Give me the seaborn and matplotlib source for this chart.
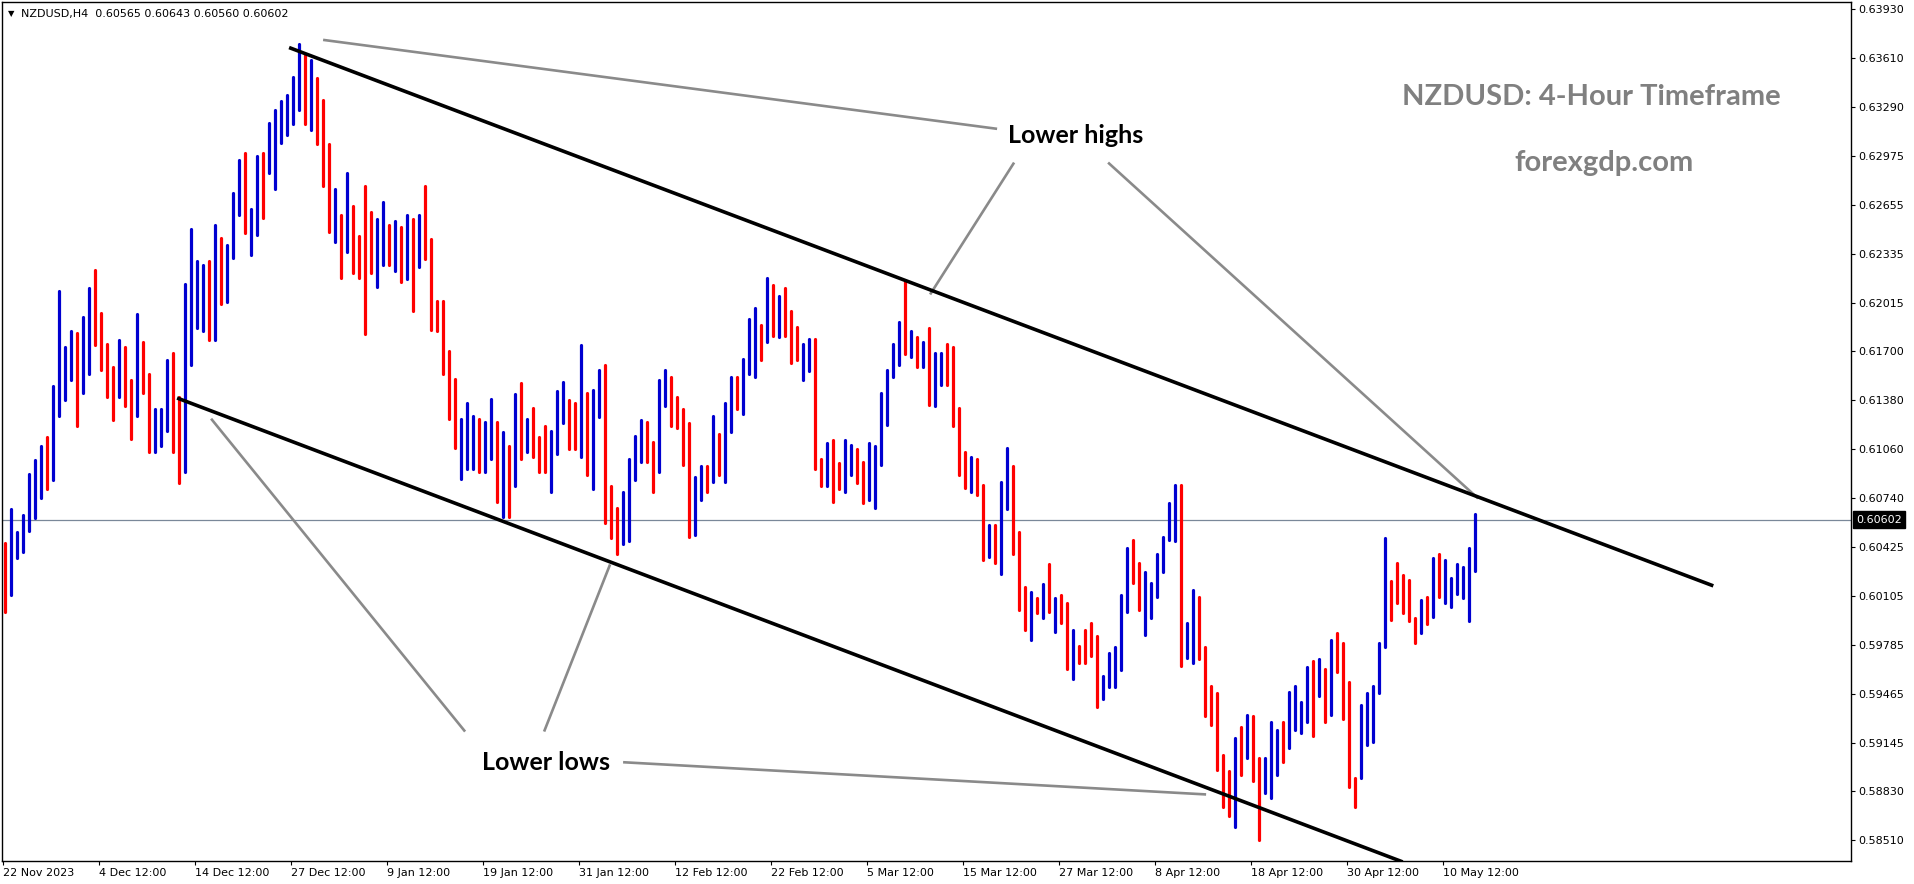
import numpy as np
import pandas as pd
import matplotlib
matplotlib.use("Agg")
import matplotlib.pyplot as plt
import matplotlib.transforms as mtransforms
import seaborn as sns

# ---------------- data (NZDUSD H4, each drawn bar = 3 consecutive H4 bars) ----------------
bar_high = [
    0.6045, 0.6067, 0.6052, 0.6063, 0.6090, 0.6099, 0.6108, 0.6114, 0.6147, 0.6209,
    0.6173, 0.6183, 0.6182, 0.6192, 0.6211, 0.6223, 0.6195, 0.6175, 0.6160, 0.6177,
    0.6173, 0.6151, 0.6194, 0.6176, 0.6155, 0.6132, 0.6132, 0.6164, 0.6169, 0.6140,
    0.6214, 0.6250, 0.6229, 0.6226, 0.6229, 0.6252, 0.6244, 0.6239, 0.6273, 0.6295,
    0.6299, 0.6263, 0.6297, 0.6299, 0.6319, 0.6327, 0.6333, 0.6337, 0.6349, 0.6370,
    0.6364, 0.6360, 0.6348, 0.6334, 0.6305, 0.6276, 0.6259, 0.6286, 0.6265, 0.6245,
    0.6278, 0.6261, 0.6256, 0.6267, 0.6252, 0.6255, 0.6251, 0.6259, 0.6256, 0.6259,
    0.6278, 0.6243, 0.6203, 0.6203, 0.6170, 0.6152, 0.6126, 0.6136, 0.6128, 0.6126,
    0.6124, 0.6139, 0.6124, 0.6117, 0.6108, 0.6142, 0.6149, 0.6126, 0.6133, 0.6114,
    0.6121, 0.6118, 0.6144, 0.6150, 0.6138, 0.6136, 0.6174, 0.6143, 0.6145, 0.6158,
    0.6161, 0.6082, 0.6068, 0.6078, 0.6100, 0.6115, 0.6125, 0.6124, 0.6111, 0.6151,
    0.6158, 0.6153, 0.6140, 0.6132, 0.6123, 0.6088, 0.6095, 0.6095, 0.6128, 0.6116,
    0.6136, 0.6153, 0.6153, 0.6165, 0.6191, 0.6198, 0.6187, 0.6218, 0.6213, 0.6206,
    0.6211, 0.6196, 0.6186, 0.6175, 0.6178, 0.6178, 0.6100, 0.6110, 0.6112, 0.6097,
    0.6112, 0.6109, 0.6106, 0.6098, 0.6110, 0.6108, 0.6143, 0.6158, 0.6175, 0.6189,
    0.6216, 0.6183, 0.6179, 0.6176, 0.6185, 0.6169, 0.6169, 0.6175, 0.6173, 0.6133,
    0.6104, 0.6101, 0.6100, 0.6083, 0.6057, 0.6057, 0.6085, 0.6107, 0.6095, 0.6052,
    0.6016, 0.6013, 0.6009, 0.6018, 0.6031, 0.6009, 0.6011, 0.6006, 0.5988, 0.5978,
    0.5988, 0.5993, 0.5984, 0.5958, 0.5973, 0.5977, 0.6011, 0.6042, 0.6047, 0.6032,
    0.6026, 0.6019, 0.6038, 0.6049, 0.6071, 0.6083, 0.6083, 0.5993, 0.6014, 0.6010,
    0.5977, 0.5952, 0.5947, 0.5907, 0.5896, 0.5918, 0.5925, 0.5933, 0.5932, 0.5905,
    0.5905, 0.5928, 0.5923, 0.5928, 0.5948, 0.5952, 0.5941, 0.5964, 0.5968, 0.5969,
    0.5963, 0.5982, 0.5986, 0.5980, 0.5954, 0.5892, 0.5939, 0.5947, 0.5952, 0.5980,
    0.6048, 0.6020, 0.6032, 0.6024, 0.6021, 0.5996, 0.6008, 0.6010, 0.6035, 0.6038,
    0.6034, 0.6022, 0.6031, 0.6029, 0.6042, 0.6064,
]
bar_low = [
    0.6000, 0.6011, 0.6035, 0.6039, 0.6053, 0.6061, 0.6074, 0.6080, 0.6086, 0.6128,
    0.6138, 0.6151, 0.6121, 0.6143, 0.6155, 0.6174, 0.6158, 0.6140, 0.6125, 0.6140,
    0.6134, 0.6113, 0.6128, 0.6143, 0.6104, 0.6104, 0.6108, 0.6118, 0.6104, 0.6084,
    0.6091, 0.6161, 0.6185, 0.6183, 0.6177, 0.6177, 0.6201, 0.6202, 0.6231, 0.6259,
    0.6247, 0.6233, 0.6246, 0.6257, 0.6286, 0.6276, 0.6306, 0.6311, 0.6318, 0.6327,
    0.6318, 0.6314, 0.6305, 0.6278, 0.6248, 0.6241, 0.6218, 0.6235, 0.6221, 0.6218,
    0.6181, 0.6221, 0.6212, 0.6226, 0.6226, 0.6222, 0.6215, 0.6217, 0.6196, 0.6225,
    0.6230, 0.6184, 0.6183, 0.6155, 0.6126, 0.6107, 0.6087, 0.6093, 0.6093, 0.6091,
    0.6091, 0.6100, 0.6072, 0.6062, 0.6062, 0.6082, 0.6100, 0.6104, 0.6101, 0.6091,
    0.6091, 0.6078, 0.6103, 0.6123, 0.6106, 0.6106, 0.6101, 0.6089, 0.6080, 0.6127,
    0.6058, 0.6048, 0.6038, 0.6044, 0.6046, 0.6086, 0.6098, 0.6098, 0.6078, 0.6091,
    0.6134, 0.6121, 0.6120, 0.6096, 0.6049, 0.6050, 0.6073, 0.6078, 0.6085, 0.6089,
    0.6085, 0.6117, 0.6132, 0.6129, 0.6155, 0.6153, 0.6164, 0.6176, 0.6180, 0.6179,
    0.6180, 0.6162, 0.6164, 0.6151, 0.6157, 0.6093, 0.6082, 0.6082, 0.6072, 0.6080,
    0.6078, 0.6089, 0.6084, 0.6071, 0.6073, 0.6068, 0.6096, 0.6122, 0.6153, 0.6161,
    0.6168, 0.6166, 0.6160, 0.6160, 0.6135, 0.6134, 0.6148, 0.6148, 0.6121, 0.6089,
    0.6081, 0.6078, 0.6076, 0.6034, 0.6036, 0.6032, 0.6025, 0.6067, 0.6038, 0.6001,
    0.5988, 0.5982, 0.5999, 0.5996, 0.6000, 0.5987, 0.5993, 0.5963, 0.5956, 0.5967,
    0.5967, 0.5971, 0.5938, 0.5943, 0.5951, 0.5951, 0.5962, 0.6000, 0.6019, 0.6001,
    0.5985, 0.5996, 0.6010, 0.6026, 0.6047, 0.6046, 0.5965, 0.5970, 0.5967, 0.5969,
    0.5932, 0.5926, 0.5897, 0.5873, 0.5867, 0.5860, 0.5894, 0.5905, 0.5890, 0.5851,
    0.5882, 0.5879, 0.5894, 0.5902, 0.5911, 0.5923, 0.5921, 0.5928, 0.5919, 0.5945,
    0.5928, 0.5933, 0.5961, 0.5930, 0.5886, 0.5873, 0.5892, 0.5913, 0.5915, 0.5947,
    0.5977, 0.5995, 0.6006, 0.5999, 0.5994, 0.5980, 0.5986, 0.5992, 0.5997, 0.6010,
    0.6006, 0.6003, 0.6012, 0.6009, 0.5994, 0.6027,
]
# u = bullish (blue), d = bearish (red)
bar_dir = (
    "duuuuuuduu" "uuduuddddu" "ddudduuudd" "uuuududuuu" "duuduuuuuu"
    "dudddududd" "dduudududu" "dddddduuud" "uududududd" "duuudduduu"
    "ddduuuuddu" "udddduudud" "uuduuududu" "ddduuddudd" "uudduuuuuu"
    "dududuuddd" "dudduduudd" "dudududdud" "ddduuuuudd" "uuuuuuduud"
    "dddddududd" "uuuduuuudu" "dudddduuuu" "udddddudud" "uuuuuu"
)
h4_per_drawn_bar = 3

price_ticks = [0.63930, 0.63610, 0.63290, 0.62975, 0.62655, 0.62335, 0.62015, 0.61700, 0.61380,
               0.61060, 0.60740, 0.60425, 0.60105, 0.59785, 0.59465, 0.59145, 0.58830, 0.58510]
price_tick_labels = ["%.5f" % p for p in price_ticks]
date_tick_bars = [0, 48, 96, 144, 192, 240, 288, 336, 384, 432, 480, 528, 576, 624, 672, 720]
date_tick_labels = ["22 Nov 2023", "4 Dec 12:00", "14 Dec 12:00", "27 Dec 12:00", "9 Jan 12:00",
                    "19 Jan 12:00", "31 Jan 12:00", "12 Feb 12:00", "22 Feb 12:00", "5 Mar 12:00",
                    "15 Mar 12:00", "27 Mar 12:00", "8 Apr 12:00", "18 Apr 12:00", "30 Apr 12:00",
                    "10 May 12:00"]
last_price = 0.60602
header_text = "NZDUSD,H4  0.60565 0.60643 0.60560 0.60602"

# channel lines (bar index, price)
upper_channel_x = [143.2, 855.3]
upper_channel_y = [0.6368, 0.6017]
lower_channel_x = [87.2, 700.0]
lower_channel_y = [0.61395, 0.58370]
# grey pointer lines
pointer_lines = [
    ([160.2, 497.2], [0.6373, 0.6315]),
    ([505.7, 463.7], [0.6293, 0.6207]),
    ([552.7, 737.7], [0.6293, 0.6074]),
    ([104.2, 231.2], [0.6126, 0.5922]),
    ([270.7, 303.7], [0.5922, 0.6031]),
    ([310.2, 601.7], [0.5902, 0.5881]),
]
label_highs = (536.6, 0.63058, "Lower highs")
label_lows = (271.9, 0.58970, "Lower lows")
title_text = "NZDUSD: 4-Hour Timeframe"
site_text = "forexgdp.com"

# ---------------- plotting ----------------
sns.set_style("white")
plt.rcParams["font.family"] = ["DejaVu Sans"]

W, H = 1914, 884
fig = plt.figure(figsize=(W / 100, H / 100), dpi=100)
fig.patch.set_facecolor("white")
ax = fig.add_axes([2 / W, 23 / H, 1849 / W, 859 / H])

n = min(len(bar_high), len(bar_low), len(bar_dir))
centers = np.arange(n) * h4_per_drawn_bar + 1
df = pd.DataFrame({
    "bar": np.repeat(centers, 2),
    "i": np.repeat(centers, 2),
    "price": np.column_stack([bar_low[:n], bar_high[:n]]).ravel(),
    "dir": np.repeat(list(bar_dir[:n]), 2),
})

ax.axhline(last_price, color="#7a8899", lw=0.9, zorder=1)

sns.lineplot(data=df, x="i", y="price", hue="dir", units="bar", estimator=None,
             palette={"u": "#0000d0", "d": "#ff0000"}, linewidth=2.3,
             legend=False, sort=False, ax=ax, zorder=2)

ax.plot(upper_channel_x, upper_channel_y, color="black", lw=2.6, zorder=4, solid_capstyle="butt")
ax.plot(lower_channel_x, lower_channel_y, color="black", lw=2.6, zorder=4, solid_capstyle="butt")
for xs, ys in pointer_lines:
    ax.plot(xs, ys, color="#8a8a8a", lw=1.9, zorder=3, solid_capstyle="butt")

for (x, y, s) in (label_highs, label_lows):
    ax.text(x, y, s, ha="center", va="baseline", fontsize=18, fontweight="bold",
            family="Lato", color="black", zorder=5)

fig.text(1591 / W, 1 - 105 / H, title_text, ha="center", va="baseline", fontsize=21,
         fontweight="bold", family="Lato", color="#808080")
fig.text(1604 / W, 1 - 171 / H, site_text, ha="center", va="baseline", fontsize=21,
         fontweight="bold", family="Lato", color="#808080")

fig.text(8 / W, 1 - 16 / H, "\u25BC", fontsize=6, va="baseline", ha="left", color="black")
fig.text(21 / W, 1 - 16.5 / H, header_text, fontsize=8, va="baseline", ha="left", color="black")

ax.set_xlim(-0.35, 924.15)
ax.set_ylim(0.58376, 0.63977)
ax.set_xlabel("")
ax.set_ylabel("")

ax.yaxis.tick_right()
ax.set_yticks(price_ticks)
ax.set_yticklabels(price_tick_labels)
ax.set_xticks(date_tick_bars)
ax.set_xticklabels(date_tick_labels, ha="left")
ax.tick_params(axis="y", which="both", left=False, right=True, direction="out",
               length=3, width=0.8, pad=2.5, labelsize=8, colors="black")
ax.tick_params(axis="x", which="both", bottom=True, direction="out",
               length=3, width=0.8, pad=2, labelsize=8, colors="black")
for sp in ax.spines.values():
    sp.set_visible(True)
    sp.set_color("black")
    sp.set_linewidth(1.0)

trans = mtransforms.blended_transform_factory(ax.transAxes, ax.transData)
ax.text(1.0 + 5 / 1849, last_price, "0.60602", transform=trans, ha="left", va="center",
        fontsize=8, color="white", zorder=6, clip_on=False,
        bbox=dict(boxstyle="square,pad=0.3", fc="black", ec="black"))

fig.savefig("out.png", dpi=100, facecolor="white")
